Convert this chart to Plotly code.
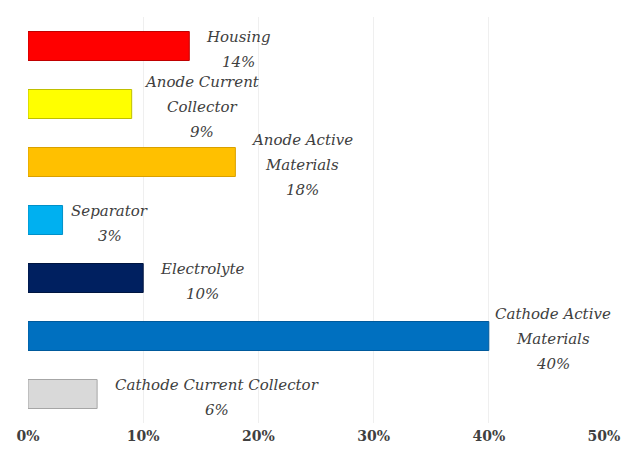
import plotly.graph_objects as go

# Share of component cost (fraction), top row first
components = [
    "Housing",
    "Anode Current Collector",
    "Anode Active Materials",
    "Separator",
    "Electrolyte",
    "Cathode Active Materials",
    "Cathode Current Collector",
]
shares = [0.14, 0.09, 0.18, 0.03, 0.10, 0.40, 0.06]
label_lines = [
    ["Housing"],
    ["Anode Current", "Collector"],
    ["Anode Active", "Materials"],
    ["Separator"],
    ["Electrolyte"],
    ["Cathode Active", "Materials"],
    ["Cathode Current Collector"],
]
tick_values = [0, 0.1, 0.2, 0.3, 0.4, 0.5]
tick_labels = ["0%", "10%", "20%", "30%", "40%", "50%"]

colors = ["#FF0000", "#FFFF00", "#FFC000", "#00B0F0", "#002060", "#0070C0", "#D9D9D9"]
edge_colors = ["#C00000", "#BFBF00", "#D9A000", "#0090C8", "#001540", "#005A9C", "#A6A6A6"]
# horizontal offset (px) from bar end to the centre of each label block
label_offsets = [49, 70, 67, 47, 59, 64, 120]
line_step = 25  # px between label lines
label_drop = -3  # label blocks sit slightly below the bar centre

serif = "DejaVu Serif, serif"

fig = go.Figure(
    go.Bar(
        x=shares,
        y=components,
        orientation="h",
        width=0.5,
        marker=dict(color=colors, line=dict(color=edge_colors, width=1)),
        hoverinfo="skip",
    )
)

for comp, val, lines, dx in zip(components, shares, label_lines, label_offsets):
    rows = lines + [f"{round(val * 100)}%"]
    n = len(rows)
    for i, row in enumerate(rows):
        fig.add_annotation(
            x=val,
            y=comp,
            xref="x",
            yref="y",
            text=f"<i>{row}</i>",
            showarrow=False,
            xanchor="center",
            yanchor="middle",
            xshift=dx,
            yshift=((n - 1) / 2 - i) * line_step + label_drop,
            font=dict(family=serif, size=15, color="#404040"),
        )

fig.update_layout(
    width=632,
    height=467,
    margin=dict(l=28, r=24, t=17, b=44),
    paper_bgcolor="white",
    plot_bgcolor="white",
    showlegend=False,
    bargap=0.5,
)
fig.update_xaxes(
    range=[0, 0.5],
    tickvals=tick_values,
    ticktext=[f"<b>{t}</b>" for t in tick_labels],
    tickfont=dict(family=serif, size=14, color="#404040"),
    showgrid=True,
    gridcolor="#EFEFEF",
    gridwidth=1,
    zeroline=False,
    showline=False,
    ticks="",
    ticklabelstandoff=3,
)
fig.update_yaxes(
    categoryorder="array",
    categoryarray=components[::-1],
    showticklabels=False,
    showgrid=False,
    zeroline=False,
    showline=False,
    ticks="",
)

fig.write_html("out.html")
